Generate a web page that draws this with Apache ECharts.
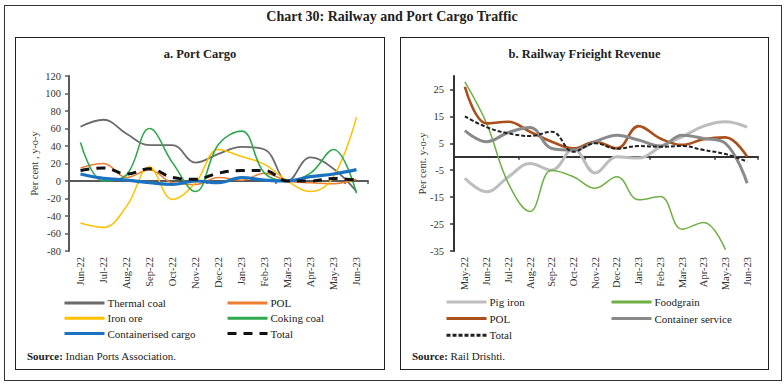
<!DOCTYPE html>
<html><head><meta charset="utf-8">
<script src="https://cdn.jsdelivr.net/npm/echarts@6/dist/echarts.min.js"></script>
<style>
body{margin:0;background:#fff;width:784px;height:387px;position:relative;overflow:hidden;font-family:"Liberation Serif",serif;color:#222}
.frame{position:absolute;left:4px;top:5px;width:778px;height:376px;border:1.5px solid #333;box-sizing:border-box}
.title{position:absolute;left:0;width:784px;top:9px;text-align:center;font-size:14px;font-weight:bold;color:#222}
.panel{position:absolute;top:37px;height:333px;border:1.5px solid #222;box-sizing:border-box}
.chart{position:absolute;top:39px;height:330px}
.src{position:absolute;top:350px;font-size:11px;color:#222}
</style></head>
<body>
<div class="frame"></div>
<div class="title">Chart 30: Railway and Port Cargo Traffic</div>
<div class="panel" style="left:15px;width:370px"></div>
<div class="panel" style="left:400px;width:369px"></div>
<div id="c1" class="chart" style="left:16px;width:368px"></div>
<div id="c2" class="chart" style="left:401px;width:367px"></div>
<div class="src" style="left:27px"><b>Source:</b> Indian Ports Association.</div>
<div class="src" style="left:412px"><b>Source:</b> Rail Drishti.</div>
<script>
// ---------- Port cargo (per cent, y-o-y) ----------
const portMonths = ['Jun-22','Jul-22','Aug-22','Sep-22','Oct-22','Nov-22','Dec-22','Jan-23','Feb-23','Mar-23','Apr-23','May-23','Jun-23'];
const thermalCoal = [62, 70, 54, 41, 41, 21, 31, 39, 36, 0, 27, 14, -12];
const portPOL     = [15, 20, 4, 13, -2, -4, 4, 1, 9, 0, -2, -3, 2];
const ironOre     = [-48, -53, -29, 16, -21, -2, 36, 28, 19, 0, -12, 5, 73];
const cokingCoal  = [44, 0, 7, 60, 21, -12, 42, 57, 9, 0, 9, 36, -14];
const containerisedCargo = [8, 3, 1, -2, -4, 0, -2, 4, 1, 0, 5, 8, 13];
const portTotal   = [12, 15, 8, 14, 4, 2, 9, 12, 12, 0, 0, 3, 1];
const portTicks = {min: -80, max: 120, interval: 20};

// ---------- Railway freight revenue (per cent, y-o-y) ----------
const railMonths = ['May-22','Jun-22','Jul-22','Aug-22','Sep-22','Oct-22','Nov-22','Dec-22','Jan-23','Feb-23','Mar-23','Apr-23','May-23','Jun-23'];
const pigIron     = [-8, -13, -7.5, -2.5, -5, 3, -6, 0, -0.5, 3.7, 7.4, 11.4, 13, 11];
const foodgrain   = [27.8, 12.4, -9.8, -20.3, -5, -7.4, -11.7, -7.4, -16, -14.8, -26.9, -24.4, -34.5, null];
const railPOL     = [26, 12.4, 13, 9.3, 5.6, 3.1, 5.6, 3.1, 11.4, 6.8, 4.4, 6.5, 7.2, 0];
const containerService = [9.7, 5.6, 9, 10.9, 3.1, 2.5, 5.6, 8, 6.2, 4, 8, 6.8, 5, -9.8];
const railTotal   = [15, 11, 8.7, 7.7, 9.3, 1.9, 5, 3, 4, 3.7, 4, 2.5, 1, -1.8];
const railTicks = {min: -35, max: 30, interval: 10};

const FONT = 'Liberation Serif';
const TXT = '#333';

function line(name, data, color, width, dash) {
  return {name, type:'line', data, smooth:0.4, symbol:'none', connectNulls:false,
    lineStyle:{color, width, type: dash || 'solid', cap:'butt'}, itemStyle:{color}, z: 2};
}

function build(opts) {
  const ac = opts.axisColor;
  return {
    animation:false,
    title:{text:opts.title, left:'center', top:8, padding:0, textStyle:{fontFamily:FONT, fontSize:12.5, fontWeight:'bold', color:'#222'}},
    grid:{left:53, top:37, width:opts.gridW, height:175, containLabel:false},
    xAxis:[
      {type:'category', data:opts.cats, boundaryGap:true, position:'bottom',
       axisLine:{show:false, onZero:false}, axisTick:{show:false},
       axisLabel:{rotate:90, interval:0, margin:6, fontFamily:FONT, fontSize:10.5, color:TXT}},
      {type:'category', data:opts.cats, boundaryGap:true, position:'bottom',
       axisLine:{show:true, onZero:true, lineStyle:{color:ac, width:2}},
       axisTick:{show:true, length:3, lineStyle:{color:ac, width:1.5}},
       axisLabel:{show:false}}
    ],
    yAxis:{type:'value', min:opts.ticks.min, max:opts.ticks.max, interval:opts.ticks.interval,
      axisLine:{show:true, lineStyle:{color:ac, width:2}},
      axisTick:{show:true, length:4, lineStyle:{color:ac, width:1.5}},
      splitLine:{show:false},
      axisLabel:{margin:opts.labelMargin, fontFamily:FONT, fontSize:10.5, color:TXT, showMaxLabel: opts.showMax},
      name:opts.yName, nameLocation:'middle', nameGap:opts.nameGap, nameMoveOverlap:false,
      nameTextStyle:{fontFamily:FONT, fontSize:10.5, color:TXT}},
    legend:opts.legends.map(l => ({orient:'vertical', left:l.left, top:opts.legTop, padding:0, itemWidth:40, itemHeight:12,
      itemGap:opts.legGap, data:l.data, selectedMode:false, lineStyle:{width:3},
      itemStyle:{opacity:0},
      textStyle:{fontFamily:FONT, fontSize:11, color:'#222', lineHeight:12, padding:[0,0,0,-2]}})),
    series:opts.series
  };
}

const c1 = echarts.init(document.getElementById('c1'), null, {renderer:'svg'});
c1.setOption(build({
  title:'a. Port Cargo', cats:portMonths, gridW:299, ticks:portTicks, axisColor:'#5a5a5a',
  labelMargin:8, showMax:true, yName:'Per cent , y-o-y', nameGap:29,
  legTop:258, legGap:3.3,
  legends:[{left:47, data:['Thermal coal','Iron ore','Containerised cargo']},
           {left:210, data:['POL','Coking coal','Total']}],
  series:[
    line('Thermal coal', thermalCoal, '#6b6b6b', 1.8),
    line('POL', portPOL, '#ed7d31', 1.5),
    line('Iron ore', ironOre, '#ffc000', 1.5),
    line('Coking coal', cokingCoal, '#2fa84f', 1.6),
    line('Containerised cargo', containerisedCargo, '#1a72c0', 3.2),
    line('Total', portTotal, '#111', 3, [9,7])
  ]
}));

const c2 = echarts.init(document.getElementById('c2'), null, {renderer:'svg'});
c2.setOption(build({
  title:'b. Railway Frieight Revenue', cats:railMonths, gridW:304, ticks:railTicks, axisColor:'#333',
  labelMargin:10, showMax:false, yName:'Per cent. y-o-y', nameGap:26,
  legTop:257, legGap:4.6,
  legends:[{left:44, data:['Pig iron','POL','Total']},
           {left:209, data:['Foodgrain','Container service']}],
  series:[
    line('Pig iron', pigIron, '#bdbdbd', 3),
    line('Foodgrain', foodgrain, '#6fb044', 1.5),
    line('POL', railPOL, '#a9501c', 2.6),
    line('Container service', containerService, '#8a8a8a', 3),
    line('Total', railTotal, '#222', 2, [4,2])
  ]
}));
</script>
</body></html>
